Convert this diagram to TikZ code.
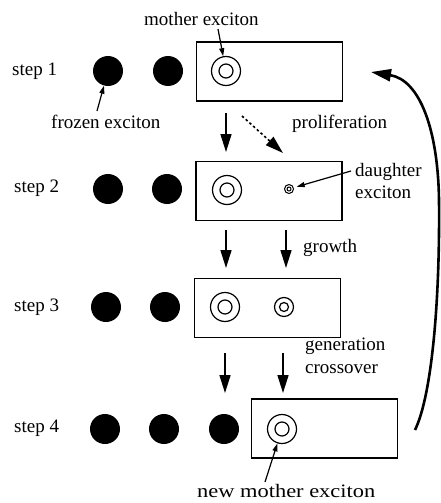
\documentclass[tikz,border=0pt]{standalone}
\usepackage{fontspec}
\setmainfont{Liberation Serif}
\newfontfamily\widefont[FakeStretch=1.18]{Liberation Serif}
\usetikzlibrary{arrows.meta}
\begin{document}
\begin{tikzpicture}[x=1pt,y=-1pt,
  every node/.style={font=\fontsize{19}{21}\selectfont},
  lbl/.style={anchor=base west, inner sep=0pt},
  frozen/.style={circle, fill=black, minimum size=30pt, inner sep=0pt},
  ring/.style={circle, draw, line width=1.2pt, inner sep=0pt},
  cell/.style={draw, line width=1.6pt, inner sep=0pt, minimum width=146pt, minimum height=59pt},
  flow/.style={line width=1.6pt, -{Triangle[length=18pt,width=11pt]}},
  ptr/.style={line width=1.2pt, -{Triangle[length=8pt,width=5pt]}},
  cycle arrow/.style={line width=2.6pt, -{Triangle[length=20pt,width=12pt]}},
]
\useasboundingbox (0,0) rectangle (441,503);

% step labels
\node[lbl] (s1) at (12,75) {step 1};
\node[lbl] (s2) at (14,192) {step 2};
\node[lbl] (s3) at (14,311) {step 3};
\node[lbl] (s4) at (14,432) {step 4};

% boxes
\node[cell] (box1) at (269.5,71.5) {};
\node[cell] (box2) at (269,191) {};
\node[cell] (box3) at (267.5,308) {};
\node[cell] (box4) at (324.5,428.5) {};

% frozen excitons
\node[frozen] (f1a) at (108,71) {};
\node[frozen] (f1b) at (168,71) {};
\node[frozen] (f2a) at (108,189) {};
\node[frozen] (f2b) at (167,189) {};
\node[frozen] (f3a) at (106,307) {};
\node[frozen] (f3b) at (165,307) {};
\node[frozen] (f4a) at (105,429) {};
\node[frozen] (f4b) at (164,429) {};
\node[frozen] (f4c) at (224,429) {};

% mother excitons
\node[ring, minimum size=29pt] (m1) at (226,71) {};
\node[ring, minimum size=14pt] (m1i) at (226,71) {};
\node[ring, minimum size=29pt] (m2) at (227,190) {};
\node[ring, minimum size=14pt] (m2i) at (227,190) {};
\node[ring, minimum size=29pt] (m3) at (225,307) {};
\node[ring, minimum size=14pt] (m3i) at (225,307) {};
\node[ring, minimum size=29pt] (m4) at (282,429) {};
\node[ring, minimum size=14pt] (m4i) at (282,429) {};

% daughter excitons
\node[ring, line width=1pt, minimum size=9pt] (d2) at (289,189) {};
\node[ring, line width=1pt, minimum size=4pt] (d2i) at (289,189) {};
\node[ring, minimum size=19pt] (d3) at (284,307) {};
\node[ring, minimum size=9pt] (d3i) at (284,307) {};

% labels
\node[lbl] (mlab) at (144,26) {mother exciton};
\node[lbl] (flab) at (51,128) {frozen exciton};
\node[lbl] (plab) at (292,128) {proliferation};
\node[lbl] (dlab1) at (355,176) {daughter};
\node[lbl] (dlab2) at (355,198) {exciton};
\node[lbl] (glab) at (303,252) {growth};
\node[lbl] (clab1) at (305,350) {generation};
\node[lbl] (clab2) at (305,373) {crossover};
\node[lbl, font=\widefont\fontsize{19}{21}\selectfont] (nlab) at (197,497) {new mother exciton};

% pointer arrows
\coordinate (mp) at (218,29);
\draw[ptr] (mp) -- (m1);
\coordinate (fp) at (97,111);
\draw[ptr] (fp) -- (f1a);
\coordinate (dp) at (351,171);
\draw[ptr, shorten >=3pt] (dp) -- (d2);
\coordinate (np) at (265,482);
\draw[ptr] (np) -- (m4);

% flow arrows
\coordinate (a1s) at (226,113); \coordinate (a1e) at (226,152);
\draw[flow] (a1s) -- (a1e);
\coordinate (d1s) at (242,116); \coordinate (d1e) at (283,153);
\draw[flow, dash pattern=on 2.5pt off 2.5pt] (d1s) -- (d1e);
\coordinate (a2s) at (226,230); \coordinate (a2e) at (226,268);
\draw[flow] (a2s) -- (a2e);
\coordinate (b2s) at (286,230); \coordinate (b2e) at (286,268);
\draw[flow] (b2s) -- (b2e);
\coordinate (a3s) at (225,353); \coordinate (a3e) at (225,393);
\draw[flow] (a3s) -- (a3e);
\coordinate (b3s) at (283,353); \coordinate (b3e) at (283,393);
\draw[flow] (b3s) -- (b3e);

% cycle arrow
\coordinate (cyc1) at (415,430);
\coordinate (cyc2) at (371,72);
\draw[cycle arrow] (cyc1) .. controls (432,395) and (440,300) .. (439,200)
  .. controls (438,130) and (420,80) .. (cyc2);
\end{tikzpicture}
\end{document}
